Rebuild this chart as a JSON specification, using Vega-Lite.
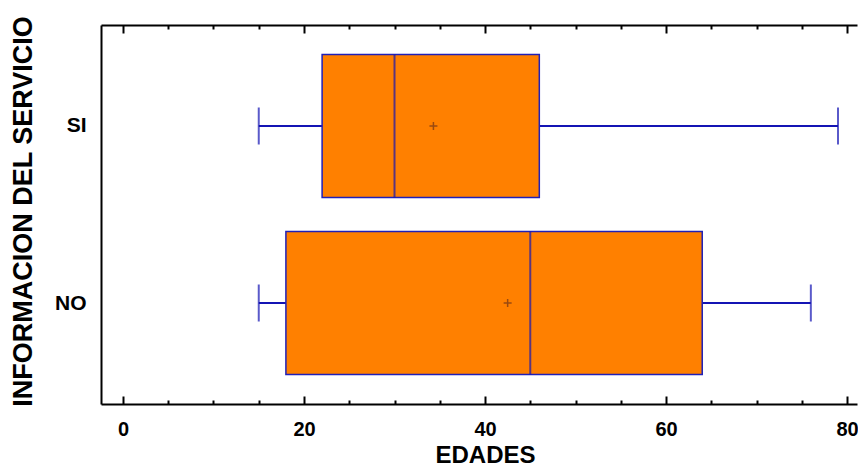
{
  "$schema": "https://vega.github.io/schema/vega-lite/v6.json",
  "width": 756,
  "height": 379,
  "autosize": {"type": "none"},
  "padding": {"left": 101, "top": 25, "right": 1, "bottom": 63},
  "background": "white",
  "config": {"view": {"stroke": null}},
  "data": {
    "values": [
      {"grupo": "SI", "minimo": 15, "q1": 22, "mediana": 30, "q3": 46, "maximo": 79, "media": 34.3},
      {"grupo": "NO", "minimo": 15, "q1": 18, "mediana": 45, "q3": 64, "maximo": 76, "media": 42.5}
    ]
  },
  "encoding": {
    "y": {
      "field": "grupo",
      "type": "nominal",
      "scale": {"type": "point", "domain": ["SI", "NO"], "padding": 0.5706},
      "axis": {
        "title": "INFORMACION DEL SERVICIO",
        "titleFont": "Liberation Sans",
        "titleFontSize": 27,
        "titleFontWeight": "bold",
        "titleColor": "black",
        "titleAngle": -90,
        "titleAlign": "center",
        "titleBaseline": "alphabetic",
        "titleX": -70,
        "titleY": 186,
        "ticks": false,
        "labelPadding": 15,
        "labelFont": "Liberation Sans",
        "labelFontSize": 21,
        "labelFontWeight": "bold",
        "labelColor": "black",
        "labelBaseline": "middle",
        "domainColor": "black",
        "domainWidth": 2,
        "grid": false
      }
    }
  },
  "resolve": {"axis": {"x": "independent"}},
  "layer": [
    {
      "mark": {"type": "rule", "color": "#1414B4", "strokeWidth": 2},
      "encoding": {
        "x": {
          "field": "minimo",
          "type": "quantitative",
          "scale": {"domain": [-2.43, 81.1], "nice": false, "zero": false},
          "axis": {
            "orient": "bottom",
            "values": [0, 20, 40, 60, 80],
            "ticks": false,
            "grid": false,
            "domain": true,
            "domainColor": "black",
            "domainWidth": 2,
            "labelPadding": 31,
            "labelBaseline": "alphabetic",
            "labelFont": "Liberation Sans",
            "labelFontSize": 20,
            "labelFontWeight": "bold",
            "labelColor": "black",
            "title": "EDADES",
            "titleFont": "Liberation Sans",
            "titleFontSize": 24,
            "titleFontWeight": "bold",
            "titleColor": "black",
            "titleX": 384,
            "titleY": 58,
            "titleAlign": "center",
            "titleBaseline": "alphabetic"
          }
        },
        "x2": {"field": "maximo"}
      }
    },
    {
      "mark": {"type": "bar", "color": "#FF8000", "stroke": "#2020B8", "strokeWidth": 1.5, "size": 143},
      "encoding": {
        "x": {
          "field": "q1",
          "type": "quantitative",
          "axis": {
            "orient": "bottom",
            "values": [0, 20, 40, 60, 80],
            "ticks": true,
            "tickSize": -8,
            "tickWidth": 2,
            "tickColor": "black",
            "labels": false,
            "domain": false,
            "grid": false,
            "title": null
          }
        },
        "x2": {"field": "q3"}
      }
    },
    {
      "mark": {"type": "tick", "color": "#1414B4", "thickness": 2, "size": 143},
      "encoding": {
        "x": {
          "field": "mediana",
          "type": "quantitative",
          "axis": {
            "orient": "bottom",
            "values": [5, 10, 15, 25, 30, 35, 45, 50, 55, 65, 70, 75],
            "ticks": true,
            "tickSize": -4,
            "tickWidth": 2,
            "tickColor": "black",
            "labels": false,
            "domain": false,
            "grid": false,
            "title": null
          }
        }
      }
    },
    {
      "mark": {"type": "tick", "color": "#1414B4", "thickness": 2, "size": 37},
      "encoding": {
        "x": {
          "field": "minimo",
          "type": "quantitative",
          "axis": {
            "orient": "top",
            "values": [0, 20, 40, 60, 80],
            "ticks": true,
            "tickSize": -8,
            "tickWidth": 2,
            "tickColor": "black",
            "labels": false,
            "domain": true,
            "domainColor": "black",
            "domainWidth": 2,
            "grid": false,
            "title": null
          }
        }
      }
    },
    {
      "mark": {"type": "tick", "color": "#1414B4", "thickness": 2, "size": 37},
      "encoding": {
        "x": {
          "field": "maximo",
          "type": "quantitative",
          "axis": {
            "orient": "top",
            "values": [5, 10, 15, 25, 30, 35, 45, 50, 55, 65, 70, 75],
            "ticks": true,
            "tickSize": -4,
            "tickWidth": 2,
            "tickColor": "black",
            "labels": false,
            "domain": false,
            "grid": false,
            "title": null
          }
        }
      }
    },
    {
      "mark": {"type": "point", "shape": "M -1 0 L 1 0 M 0 -1 L 0 1", "filled": false, "stroke": "#9A4A10", "strokeWidth": 1.5, "size": 64, "opacity": 1},
      "encoding": {
        "x": {"field": "media", "type": "quantitative", "axis": null}
      }
    }
  ]
}
